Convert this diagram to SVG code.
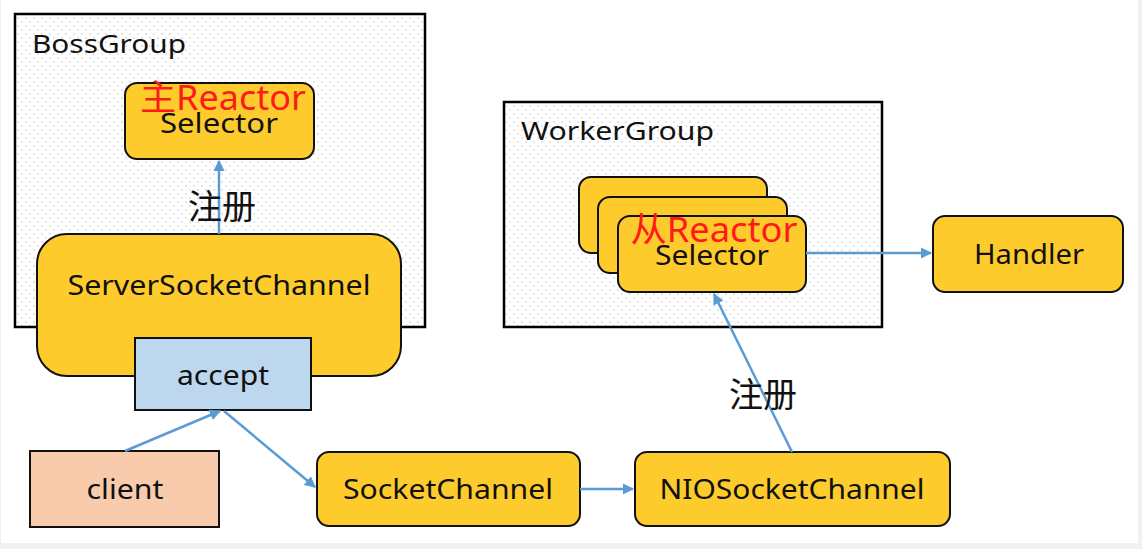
<svg xmlns="http://www.w3.org/2000/svg" width="1142" height="549" viewBox="0 0 1142 549">
<defs>
<pattern id="dots" width="8" height="8" patternUnits="userSpaceOnUse">
<rect width="8" height="8" fill="#ffffff"/>
<circle cx="2" cy="2" r="0.7" fill="#b8b8b8"/>
<circle cx="6" cy="6" r="0.7" fill="#b8b8b8"/>
</pattern>
<marker id="arr" viewBox="0 0 10 10" refX="9" refY="5" markerWidth="4.5" markerHeight="4.5" orient="auto" markerUnits="strokeWidth">
<path d="M0,0 L10,5 L0,10 z" fill="#5B9BD5"/>
</marker>
</defs>
<style>
.grp{fill:url(#dots);stroke:#000;stroke-width:2.5}
.y{fill:#FECB2C;stroke:#111;stroke-width:2}
.t{font-family:"Noto Sans","Noto Sans CJK SC",sans-serif;font-size:28px;fill:#111;text-anchor:middle}
.g{font-family:"Noto Sans","Noto Sans CJK SC",sans-serif;font-size:26px;fill:#111}
.r{font-family:"Noto Sans","Noto Sans CJK SC",sans-serif;font-size:35px;fill:#FF1A1A;text-anchor:middle}
.c{font-family:"Noto Sans CJK SC",sans-serif;font-size:34px;fill:#111;text-anchor:middle}
.ln{stroke:#5B9BD5;stroke-width:2.5;fill:none;marker-end:url(#arr)}
</style>
<rect x="0" y="0" width="1142" height="549" fill="#f1f1f1"/>
<rect x="1" y="0" width="1137" height="543" fill="#ffffff"/>

<g id="bossgroup">
<rect class="grp" x="15" y="14" width="410" height="313"/>
<text class="g" x="32" y="53" textLength="154" lengthAdjust="spacingAndGlyphs">BossGroup</text>
</g>
<g id="workergroup">
<rect class="grp" x="504" y="102" width="378" height="225"/>
<text class="g" x="521" y="140" textLength="193" lengthAdjust="spacingAndGlyphs">WorkerGroup</text>
</g>

<g id="main-selector">
<rect class="y" x="125" y="83" width="189" height="76" rx="12"/>
<text class="t" x="219" y="133" textLength="118" lengthAdjust="spacingAndGlyphs">Selector</text>
<text class="r" x="223" y="110" textLength="166" lengthAdjust="spacingAndGlyphs">主Reactor</text>
</g>

<g id="serversocketchannel">
<rect class="y" x="37" y="234" width="364" height="142" rx="30"/>
<text class="t" x="219" y="295" textLength="303" lengthAdjust="spacingAndGlyphs">ServerSocketChannel</text>
</g>

<g id="accept">
<rect x="135" y="338" width="176" height="72" fill="#BDD7EE" stroke="#111" stroke-width="2"/>
<text class="t" x="223" y="385" textLength="92" lengthAdjust="spacingAndGlyphs">accept</text>
</g>

<g id="client">
<rect x="30" y="451" width="189" height="76" fill="#F8CBAD" stroke="#111" stroke-width="2"/>
<text class="t" x="125" y="499" textLength="77" lengthAdjust="spacingAndGlyphs">client</text>
</g>

<g id="socketchannel">
<rect class="y" x="317" y="452" width="263" height="74" rx="12"/>
<text class="t" x="448" y="499" textLength="210" lengthAdjust="spacingAndGlyphs">SocketChannel</text>
</g>

<g id="niosocketchannel">
<rect class="y" x="635" y="452" width="315" height="74" rx="12"/>
<text class="t" x="792" y="499" textLength="265" lengthAdjust="spacingAndGlyphs">NIOSocketChannel</text>
</g>

<g id="worker-selectors">
<rect class="y" x="579" y="177" width="188" height="76" rx="12"/>
<rect class="y" x="598" y="197" width="189" height="76" rx="12"/>
<rect class="y" x="618" y="216" width="188" height="76" rx="12"/>
<text class="t" x="712" y="265" textLength="114" lengthAdjust="spacingAndGlyphs">Selector</text>
<text class="r" x="714" y="242" textLength="167" lengthAdjust="spacingAndGlyphs">从Reactor</text>
</g>

<g id="handler">
<rect class="y" x="933" y="216" width="190" height="76" rx="12"/>
<text class="t" x="1029" y="264" textLength="110" lengthAdjust="spacingAndGlyphs">Handler</text>
</g>

<g id="connectors">
<line class="ln" x1="219" y1="234" x2="219" y2="161"/>
<line class="ln" x1="125" y1="451" x2="220" y2="411"/>
<line class="ln" x1="224" y1="411" x2="315" y2="487"/>
<line class="ln" x1="580" y1="489" x2="633" y2="489"/>
<line class="ln" x1="792" y1="452" x2="714" y2="294"/>
<line class="ln" x1="806" y1="253" x2="931" y2="253"/>
</g>

<g id="labels">
<text class="c" x="222" y="219">注册</text>
<text class="c" x="763" y="407">注册</text>
</g>
</svg>
